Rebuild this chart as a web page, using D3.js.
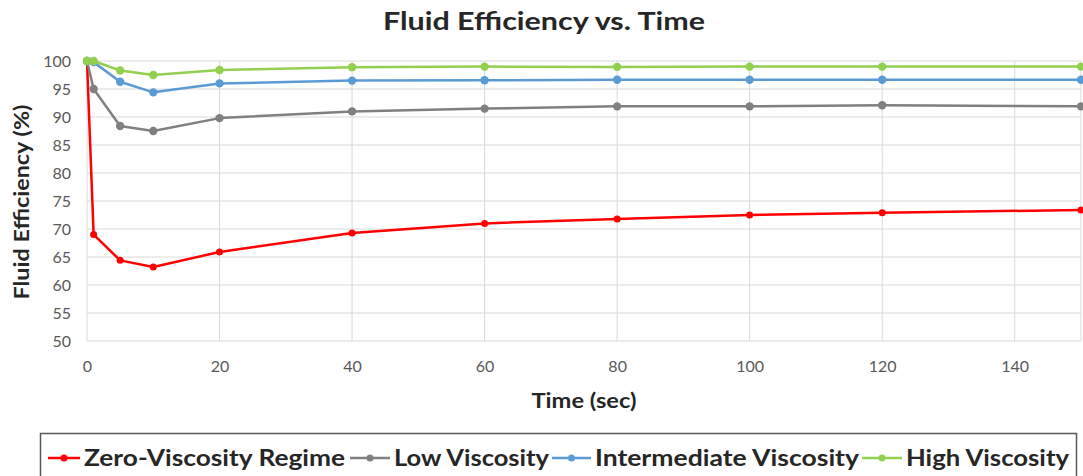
<!DOCTYPE html>
<html>
<head>
<meta charset="utf-8">
<script src="https://cdn.jsdelivr.net/npm/d3@7"></script>
<style>
  html, body { margin: 0; padding: 0; background: #fff; }
  svg { display: block; font-family: Lato, "Open Sans", sans-serif; }
</style>
</head>
<body>
<svg id="chart" width="1083" height="476"></svg>
<script>
// Time points (sec)
const times = [0, 1, 5, 10, 20, 40, 60, 80, 100, 120, 150];

// Fluid efficiency (%) per regime
const zeroViscosity = [100, 69.0, 64.4, 63.2, 65.9, 69.3, 71.0, 71.8, 72.5, 72.9, 73.4];
const lowViscosity = [100, 95.0, 88.4, 87.5, 89.8, 91.0, 91.5, 91.9, 91.9, 92.1, 91.9];
const intermediateViscosity = [100, 99.8, 96.3, 94.4, 96.0, 96.5, 96.55, 96.65, 96.65, 96.65, 96.65];
const highViscosity = [100, 100, 98.3, 97.5, 98.4, 98.9, 99.0, 98.95, 99.0, 99.0, 99.0];

const seriesNames = ["Zero-Viscosity Regime", "Low Viscosity", "Intermediate Viscosity", "High Viscosity"];
const seriesColors = ["#ff0000", "#808080", "#5b9bd5", "#92d050"];

const xTicks = [0, 20, 40, 60, 80, 100, 120, 140];
const yTicks = [50, 55, 60, 65, 70, 75, 80, 85, 90, 95, 100];

const series = [zeroViscosity, lowViscosity, intermediateViscosity, highViscosity].map((vals, i) => ({
  name: seriesNames[i],
  color: seriesColors[i],
  points: times.map((t, j) => ({ t, v: vals[j] }))
}));

const svg = d3.select("#chart");
const plot = { left: 87, right: 1081, top: 61, bottom: 341 };

const x = d3.scaleLinear().domain([0, 150]).range([plot.left, plot.right]);
const y = d3.scaleLinear().domain([50, 100]).range([plot.bottom, plot.top]);

// Gridlines
const grid = svg.append("g");
grid.selectAll("line.h").data(yTicks).join("line")
  .attr("x1", plot.left).attr("x2", plot.right)
  .attr("y1", d => y(d)).attr("y2", d => y(d))
  .attr("stroke", "#d9d9d9").attr("stroke-width", 1);
grid.selectAll("line.v").data(xTicks.concat([150])).join("line")
  .attr("x1", d => x(d)).attr("x2", d => x(d))
  .attr("y1", plot.top).attr("y2", plot.bottom)
  .attr("stroke", "#d9d9d9").attr("stroke-width", 1);

// Axes (labels only)
const yAxis = svg.append("g")
  .attr("transform", `translate(${plot.left - 16},0)`)
  .call(d3.axisLeft(y).tickValues(yTicks).tickSize(0).tickPadding(0));
yAxis.select(".domain").remove();
yAxis.selectAll("text").attr("font-size", 16).attr("fill", "#595959")
  .attr("font-family", "Lato, 'Open Sans', sans-serif");

const xAxis = svg.append("g")
  .attr("transform", `translate(0,${plot.bottom + 20})`)
  .call(d3.axisBottom(x).tickValues(xTicks).tickSize(0).tickPadding(0));
xAxis.select(".domain").remove();
xAxis.selectAll("text").attr("font-size", 16).attr("fill", "#595959")
  .attr("font-family", "Lato, 'Open Sans', sans-serif");

// Lines and markers
const line = d3.line().x(d => x(d.t)).y(d => y(d.v));
const sg = svg.append("g").selectAll("g").data(series).join("g");
sg.append("path")
  .attr("d", d => line(d.points))
  .attr("fill", "none")
  .attr("stroke", d => d.color)
  .attr("stroke-width", 2.5)
  .attr("stroke-linejoin", "round");
sg.selectAll("circle").data(d => d.points.map(p => ({ ...p, color: d.color, name: d.name }))).join("circle")
  .attr("cx", d => x(d.t)).attr("cy", d => y(d.v))
  .attr("r", d => d.name === "Zero-Viscosity Regime" ? 3.5 : 4.2)
  .attr("fill", d => d.color);

// Title
svg.append("text")
  .attr("x", 544).attr("y", 30)
  .attr("text-anchor", "middle")
  .attr("font-size", 24).attr("font-weight", 700).attr("fill", "#262626")
  .attr("textLength", 322).attr("lengthAdjust", "spacingAndGlyphs")
  .text("Fluid Efficiency vs. Time");

// Axis titles
svg.append("text")
  .attr("x", 584).attr("y", 408)
  .attr("text-anchor", "middle")
  .attr("font-size", 21).attr("font-weight", 700).attr("fill", "#262626")
  .attr("textLength", 105).attr("lengthAdjust", "spacingAndGlyphs")
  .text("Time (sec)");

svg.append("text")
  .attr("transform", "translate(29,202) rotate(-90)")
  .attr("text-anchor", "middle")
  .attr("font-size", 21).attr("font-weight", 700).attr("fill", "#262626")
  .attr("textLength", 195).attr("lengthAdjust", "spacingAndGlyphs")
  .text("Fluid Efficiency (%)");

// Legend
const legend = svg.append("g");
legend.append("rect")
  .attr("x", 40.5).attr("y", 433.5).attr("width", 1036).attr("height", 50)
  .attr("fill", "#fff").attr("stroke", "#595959").attr("stroke-width", 1.5);

const legendItems = [
  { sx: 48, tx: 84, w: 261 },
  { sx: 350, tx: 394, w: 155 },
  { sx: 552, tx: 595, w: 264 },
  { sx: 862, tx: 906, w: 163 }
];
legendItems.forEach((it, i) => {
  const g = legend.append("g");
  g.append("line")
    .attr("x1", it.sx).attr("x2", it.tx - 4)
    .attr("y1", 458).attr("y2", 458)
    .attr("stroke", seriesColors[i]).attr("stroke-width", 2.5);
  g.append("circle")
    .attr("cx", (it.sx + it.tx - 4) / 2).attr("cy", 458).attr("r", 3.5)
    .attr("fill", seriesColors[i]);
  g.append("text")
    .attr("x", it.tx).attr("y", 466)
    .attr("font-size", 22).attr("font-weight", 700).attr("fill", "#262626")
    .attr("textLength", it.w).attr("lengthAdjust", "spacingAndGlyphs")
    .text(seriesNames[i]);
});
</script>
</body>
</html>
